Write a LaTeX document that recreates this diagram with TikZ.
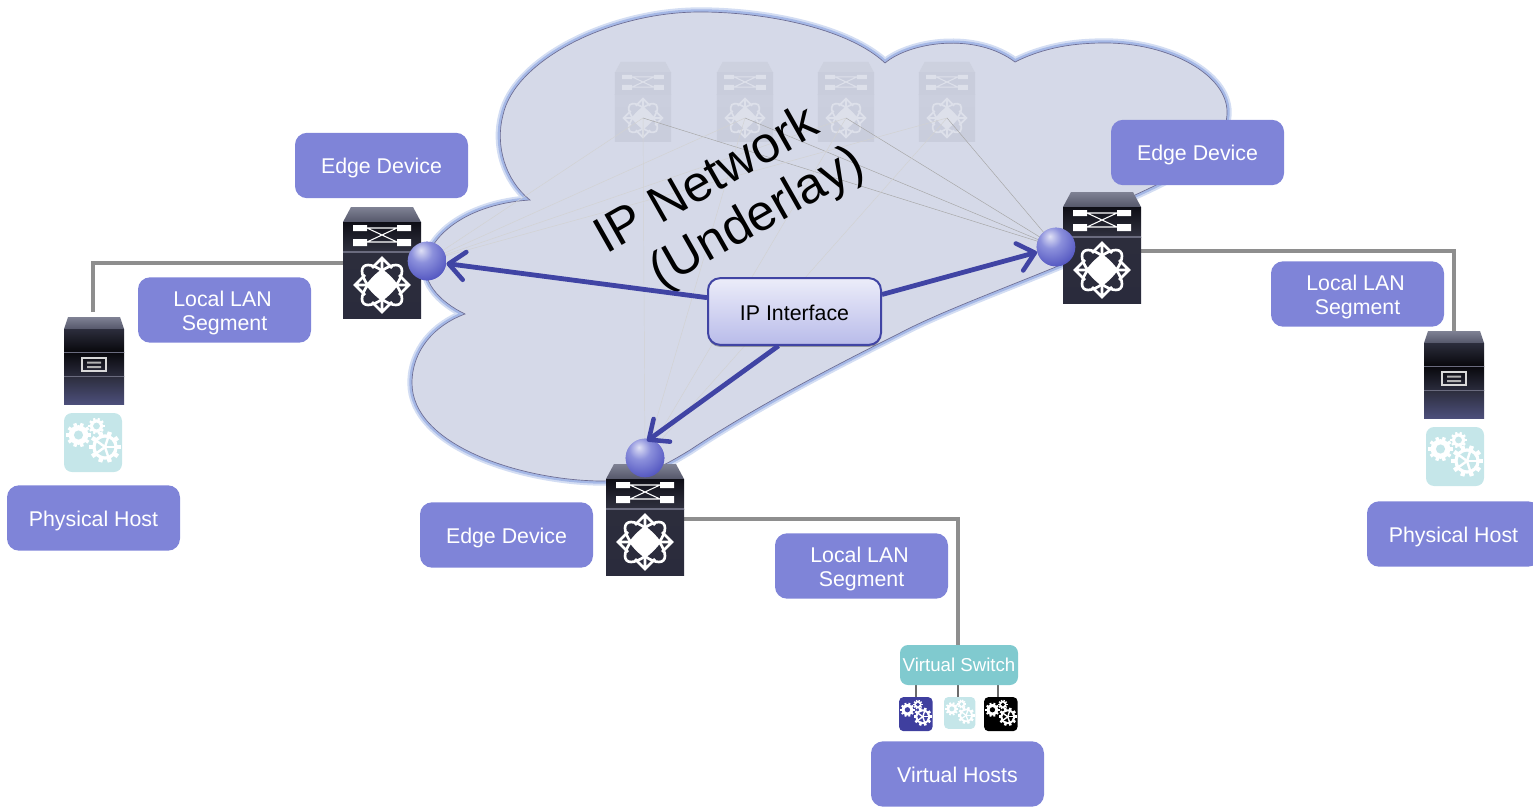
\documentclass[tikz,border=0pt]{standalone}
\usepackage{fontspec}
\setmainfont{Liberation Sans}
\usetikzlibrary{arrows.meta,shadings,shadows}
\definecolor{labelblue}{HTML}{7F84D8}
\definecolor{linkblue}{HTML}{4044A4}
\definecolor{cloudfill}{HTML}{D5D9E8}
\definecolor{cloudglow}{HTML}{A5B8E6}
\definecolor{cloudhalo}{HTML}{D3DDF3}
\definecolor{lanGray}{HTML}{8E8E8E}
\definecolor{tileLight}{HTML}{C5E6E9}
\definecolor{tileBlue}{HTML}{3F3F9F}
\definecolor{vsTeal}{HTML}{80CACF}
\definecolor{swTopA}{HTML}{7F8294}
\definecolor{swTopB}{HTML}{55576A}
\definecolor{swUpA}{HTML}{0E0E16}
\definecolor{swUpB}{HTML}{30313F}
\definecolor{swLowA}{HTML}{2C2D3C}
\definecolor{swLowM}{HTML}{08080C}
\definecolor{swLowB}{HTML}{2A2B3C}
\definecolor{swIcon}{HTML}{FFFFFF}
\definecolor{swRule}{HTML}{6A6B7E}
\pgfdeclareradialshading{portball}{\pgfpoint{-8bp}{14bp}}{%
  color(0bp)=(white!75!labelblue);
  color(14bp)=(labelblue!90!white);
  color(36bp)=(labelblue!75!blue!85!black);
  color(60bp)=(linkblue);
  color(100bp)=(linkblue)}
\def\swlw{2pt}
\tikzset{
  x=0.75pt,y=-0.75pt,
  tag/.style={fill=labelblue,rounded corners=9pt,minimum width=129.75pt,minimum height=49pt,inner sep=0pt,
    text=white,font=\fontsize{16}{18}\selectfont,align=center,text height=16pt,text depth=3.4pt},
  tagtwo/.style={tag,text height=33.5pt},
  lan/.style={draw=lanGray,line width=3.2pt},
  mesh/.style={draw=gray!70,line width=0.35pt},
  meshlight/.style={draw=gray!35,line width=0.35pt},
  drop/.style={draw=gray!85!black,line width=2pt},
  link/.style={draw=linkblue,line width=3.6pt,-{Straight Barb[length=12pt,width=21pt,line width=3.4pt,round]}},
  port/.style={circle,minimum size=29pt,inner sep=0pt,shading=portball},
  pics/switchbox/.style={code={
    \path[top color=swTopA,bottom color=swTopB] (-31,-78) -- (31,-78) -- (39,-63) -- (-39,-63) -- cycle;
    \path[top color=swUpA,bottom color=swUpB] (-39,-63) rectangle (39,-33);
    \path[top color=swLowA,middle color=swLowM,bottom color=swLowB] (-39,-33) rectangle (39,33);
    \draw[swRule,line width=0.8pt] (-39,-33) -- (39,-33);
    \fill[swIcon] (-29,-60) rectangle (-15,-54) (15,-60) rectangle (29,-54)
                  (-29,-46) rectangle (-15,-39) (15,-46) rectangle (29,-39);
    \draw[swIcon,line width=0.8pt] (-15,-57) -- (15,-57) (-15,-43) -- (15,-43) (-15,-57) -- (15,-43) (-15,-43) -- (15,-57);
    \foreach \a in {0,90,180,270}{
      \draw[swIcon,line width=\swlw,rotate=\a] (17,-10) -- (27,0) -- (17,10) (8,0) -- (27,0);
    }
    \draw[swIcon,line width=\swlw,rotate=45] (0,0) ellipse [x radius=26,y radius=11];
    \draw[swIcon,line width=\swlw,rotate=-45] (0,0) ellipse [x radius=26,y radius=11];
    \fill[swIcon] (0,-16) -- (16,0) -- (0,16) -- (-16,0) -- cycle;
  }},
  pics/serverbox/.style={code={
    \path[top color=swTopA,bottom color=swTopB] (4,0) -- (56,0) -- (60,12) -- (0,12) -- cycle;
    \path[top color=swLowA,bottom color=swLowM] (0,12) rectangle (60,35);
    \path[top color=swLowM,bottom color=swLowB] (0,35) rectangle (60,59);
    \path[top color=swLowA,middle color=swLowA!70!black,bottom color=swLowB!60!labelblue] (0,59) rectangle (60,87);
    \draw[swRule,line width=0.6pt] (0,35) -- (60,35) (0,59) -- (60,59);
    \draw[white!85!black,line width=0.9pt] (18,41) rectangle (42,54);
    \fill[white!70!black] (23,44.5) rectangle (37,46.5) (23,49) rectangle (37,51);
  }}
}
% gear: #1 x, #2 y, #3 radius, #4 gear colour, #5 hole colour
\newcommand{\gearshape}[6]{%
  \fill[#4] (#1,#2) circle [radius=0.82*#3];
  \foreach \t in {0,36,...,324}{
    \fill[#4,shift={(#1,#2)},rotate=\t] (0.7*#3,-0.14*#3) rectangle (1.02*#3,0.14*#3);
  }
  \fill[#5] (#1,#2) circle [radius=#6*#3];
}
\newcommand{\geartile}[5]{% x, y, scale, bg, fg
  \begin{scope}[shift={(#1,#2)},scale=#3]
    \fill[#4,rounded corners=6pt*#3] (0,0) rectangle (58,59);
    \gearshape{14.5}{22}{12}{#5}{#4}{0.38}
    \gearshape{32.5}{13}{8}{#5}{#4}{0.42}
    \gearshape{41}{34}{15.5}{#5}{#4}{0.6}
    \foreach \s in {0,72,144,216,288}{
      \fill[#5,shift={(41,34)},rotate=\s] (0,-1.2) rectangle (10,1.2);
    }
  \end{scope}
}
\begin{document}
\begin{tikzpicture}
\useasboundingbox (0,0) rectangle (1533,806);
\clip (0,0) rectangle (1533,806);
% cloud
\def\cloudpath{(600,481)
  .. controls (520,480) and (412,445) .. (412,383)
  .. controls (412,350) and (435,325) .. (465,314)
  .. controls (440,302) and (418,280) .. (428,255)
  .. controls (440,225) and (480,203) .. (530,200)
  .. controls (505,180) and (495,145) .. (503,115)
  .. controls (515,60) and (610,12) .. (700,12)
  .. controls (770,12) and (850,30) .. (885,63)
  .. controls (910,42) and (975,32) .. (1015,62)
  .. controls (1045,47) and (1075,43) .. (1105,43)
  .. controls (1170,43) and (1227,75) .. (1227,112)
  .. controls (1227,150) and (1185,172) .. (1135,195)
  -- (1063,264)
  .. controls (1000,290) and (940,312) .. (900,333)
  .. controls (830,368) and (750,410) .. (690,450)
  .. controls (670,462) and (640,481) .. (600,481) -- cycle}
\draw[cloudhalo,line width=7pt,line join=round] \cloudpath;
\draw[cloudglow,line width=4pt,line join=round] \cloudpath;
\fill[cloudfill] \cloudpath;
\draw[gray!85!blue,line width=0.5pt] \cloudpath;
% named points
\coordinate (f1) at (643,118);
\coordinate (f2) at (745,118);
\coordinate (f3) at (846,118);
\coordinate (f4) at (947,118);
\coordinate (lanA) at (93,263);
\coordinate (lanAend) at (93,312);
\coordinate (lanB) at (1454,251);
\coordinate (lanBend) at (1454,332);
\coordinate (lanC) at (958,519);
\coordinate (lanCend) at (958,645);
\coordinate (swA) at (343,263);
\coordinate (swB) at (1141,251);
\coordinate (swC) at (684,519);
\coordinate (vsA) at (916,685);
\coordinate (vsB) at (958,685);
\coordinate (vsC) at (998,685);
\coordinate (vmA) at (916,698);
\coordinate (vmB) at (958,698);
\coordinate (vmC) at (998,698);
\coordinate (pcTip) at (647,441);
% faded spine switches
\begin{scope}
\def\swlw{1.3pt}
\definecolor{swTopA}{HTML}{CDD1DF}
\definecolor{swTopB}{HTML}{CDD1DF}
\definecolor{swUpA}{HTML}{C9CDDC}
\definecolor{swUpB}{HTML}{C9CDDC}
\definecolor{swLowA}{HTML}{CBCFDE}
\definecolor{swLowM}{HTML}{C6CADA}
\definecolor{swLowB}{HTML}{C9CDDC}
\definecolor{swRule}{HTML}{C9CDDC}
\definecolor{swIcon}{HTML}{DDE0EA}
\pic[scale=0.72] at (643,118) {switchbox};
\pic[scale=0.72] at (745,118) {switchbox};
\pic[scale=0.72] at (846,118) {switchbox};
\pic[scale=0.72] at (947,118) {switchbox};
\end{scope}
% ports (placed first so that links can be named)
\node[port] (pa) at (427,261) {};
\node[port] (pb) at (1056,247) {};
\node[port] (pc) at (645,458) {};
% mesh
\foreach \f in {f1,f2,f3,f4}{
  \draw[meshlight] (\f) -- (pa.center);
  \draw[meshlight] (\f) -- (pc.center);
  \draw[mesh] (\f) -- (pb.center);
}
% LAN segments
\draw[lan] (swA) -- (lanA) -- (lanAend);
\draw[lan] (swB) -- (lanB) -- (lanBend);
\draw[lan] (swC) -- (lanC) -- (lanCend);
% devices
\pic at (382,285) {switchbox};
\pic at (1102,270) {switchbox};
\pic at (645,542) {switchbox};
\pic at (64,317) {serverbox};
\pic at (1424,331) {serverbox};
\geartile{64}{413}{1}{tileLight}{white}
\geartile{1426}{427}{1}{tileLight}{white}
% ports again on top of switches
\node[port] (paTop) at (pa.center) {};
\node[port] (pbTop) at (pb.center) {};
\node[port] (pcTop) at (pc.center) {};
% title
\node[rotate=29.6,anchor=base west,align=left,inner sep=0pt,font=\fontsize{38}{42.8}\selectfont] (title) at (634.5,304.4) {IP Network\\\hspace*{22.8pt}(Underlay)};
% IP interface
\node[draw=linkblue,line width=1.5pt,rounded corners=9pt,minimum width=129.75pt,minimum height=50pt,inner sep=0pt,
  top color=white!85!labelblue,bottom color=labelblue!55!white,text height=13pt,font=\fontsize{16}{18}\selectfont,
  drop shadow={shadow xshift=0pt,shadow yshift=-1.5pt,fill=black,opacity=.3}] (ip) at (794.5,311.5) {IP Interface};
\draw[link] (ip.171) -- (pa);
\draw[link] (ip.11) -- (pb);
\draw[link] (ip.-115) -- (pcTip);
% labels
\node[tag] (e1) at (381.5,165.5) {Edge Device};
\node[tag] (e2) at (1197.5,152.5) {Edge Device};
\node[tag] (e3) at (506.5,535) {Edge Device};
\node[tagtwo] (l1) at (224.5,310) {Local LAN\hspace*{3pt}\\Segment};
\node[tagtwo] (l2) at (1357.5,294) {Local LAN\hspace*{3pt}\\Segment};
\node[tagtwo] (l3) at (861.5,566) {Local LAN\hspace*{3pt}\\Segment};
\node[tag] (h1) at (93.5,518) {Physical Host};
\node[tag] (h2) at (1453.5,534) {Physical Host};
\node[tag] (v1) at (957.5,774) {Virtual Hosts};
% virtual switch
\draw[drop] (vsA) -- (vmA);
\draw[drop] (vsB) -- (vmB);
\draw[drop] (vsC) -- (vmC);
\node[fill=vsTeal,rounded corners=6pt,minimum width=88.5pt,minimum height=30pt,inner sep=0pt,text=white,
  font=\fontsize{14}{16}\selectfont] (vs) at (959,665) {Virtual Switch};
\geartile{899}{697}{0.58}{tileBlue}{white}
\geartile{944}{697}{0.54}{tileLight}{white}
\geartile{984}{697}{0.58}{black}{white}
\end{tikzpicture}
\end{document}
